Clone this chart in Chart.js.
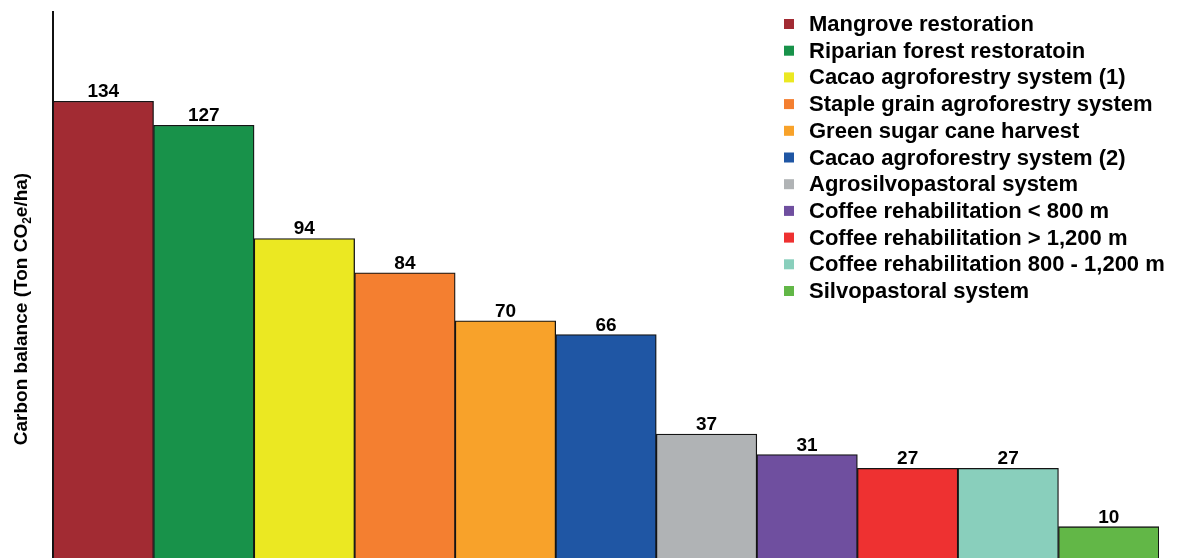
<!DOCTYPE html>
<html>
<head>
<meta charset="utf-8">
<title>Carbon balance by practice</title>
<script src="https://cdn.jsdelivr.net/npm/chart.js@4.4.1/dist/chart.umd.min.js"></script>
<style>
  html, body { margin: 0; padding: 0; background: #ffffff; overflow: hidden; }
  #wrap { position: relative; width: 1204px; height: 561px; }
</style>
</head>
<body>
<div id="wrap"><canvas id="chart"></canvas></div>
<script>
// Practices, in descending order of carbon balance
const categories = [
  'Mangrove restoration',
  'Riparian forest restoratoin',
  'Cacao agroforestry system (1)',
  'Staple grain agroforestry system',
  'Green sugar cane harvest',
  'Cacao agroforestry system (2)',
  'Agrosilvopastoral system',
  'Coffee rehabilitation < 800 m',
  'Coffee rehabilitation > 1,200 m',
  'Coffee rehabilitation 800 - 1,200 m',
  'Silvopastoral system'
];

// Carbon balance, Ton CO2e/ha
const carbonBalance = [134, 127, 94, 84, 70, 66, 37, 31, 27, 27, 10];

const barColors = [
  '#a22b33', '#18924a', '#ebe822', '#f47f30', '#f8a22a', '#1f56a4',
  '#b0b3b5', '#6f4f9f', '#ee3131', '#89cfbc', '#62b747'
];

const FONT = '"Liberation Sans", Arial, Helvetica, sans-serif';

// Value printed above each bar
const valueLabels = {
  id: 'valueLabels',
  afterDatasetsDraw(chart) {
    const ctx = chart.ctx;
    const meta = chart.getDatasetMeta(0);
    const data = chart.data.datasets[0].data;
    ctx.save();
    ctx.font = 'bold 19px ' + FONT;
    ctx.fillStyle = '#000000';
    ctx.textAlign = 'center';
    ctx.textBaseline = 'alphabetic';
    meta.data.forEach((bar, i) => {
      ctx.fillText(String(data[i]), bar.x, bar.y - 4);
    });
    ctx.restore();
  }
};

// Legend listing every practice with its bar colour, top right
const practiceLegend = {
  id: 'practiceLegend',
  afterDraw(chart) {
    const ctx = chart.ctx;
    const ds = chart.data.datasets[0];
    const x0 = 784, y0 = 24, step = 26.7;
    ctx.save();
    ctx.font = 'bold 22px ' + FONT;
    ctx.textAlign = 'left';
    ctx.textBaseline = 'middle';
    chart.data.labels.forEach((label, i) => {
      const y = y0 + i * step;
      ctx.fillStyle = ds.backgroundColor[i];
      ctx.fillRect(x0, y - 5, 10, 10);
      ctx.fillStyle = '#000000';
      ctx.fillText(label, x0 + 25, y + 1);
    });
    ctx.restore();
  }
};

// Rotated y-axis title with subscript 2
const axisTitle = {
  id: 'axisTitle',
  afterDraw(chart) {
    const ctx = chart.ctx;
    const parts = [
      { t: 'Carbon balance (Ton CO', size: 19, dy: 0 },
      { t: '2', size: 12, dy: 4 },
      { t: 'e/ha)', size: 19, dy: 0 }
    ];
    ctx.save();
    ctx.fillStyle = '#000000';
    ctx.textBaseline = 'alphabetic';
    ctx.textAlign = 'left';
    let total = 0;
    parts.forEach(p => { ctx.font = 'bold ' + p.size + 'px ' + FONT; p.w = ctx.measureText(p.t).width; total += p.w; });
    ctx.translate(27, 309);
    ctx.rotate(-Math.PI / 2);
    let x = -total / 2;
    parts.forEach(p => {
      ctx.font = 'bold ' + p.size + 'px ' + FONT;
      ctx.fillText(p.t, x, p.dy);
      x += p.w;
    });
    ctx.restore();
  }
};

new Chart(document.getElementById('chart'), {
  type: 'bar',
  data: {
    labels: categories,
    datasets: [{
      data: carbonBalance,
      backgroundColor: barColors,
      borderColor: '#141414',
      borderWidth: 1.3,
      borderSkipped: 'start',
      categoryPercentage: 1,
      barPercentage: 1
    }]
  },
  options: {
    responsive: true,
    maintainAspectRatio: false,
    animation: false,
    events: [],
    layout: { padding: { top: 12, right: 45, bottom: 0, left: 0 } },
    plugins: { legend: { display: false }, tooltip: { enabled: false } },
    scales: {
      x: { display: false },
      y: {
        min: 0,
        max: 160,
        ticks: { display: false },
        grid: { display: false, drawTicks: false },
        border: { display: true, color: '#111111', width: 2 },
        afterFit(scale) { scale.width = 53; }
      }
    }
  },
  plugins: [valueLabels, practiceLegend, axisTitle]
});
</script>
</body>
</html>
